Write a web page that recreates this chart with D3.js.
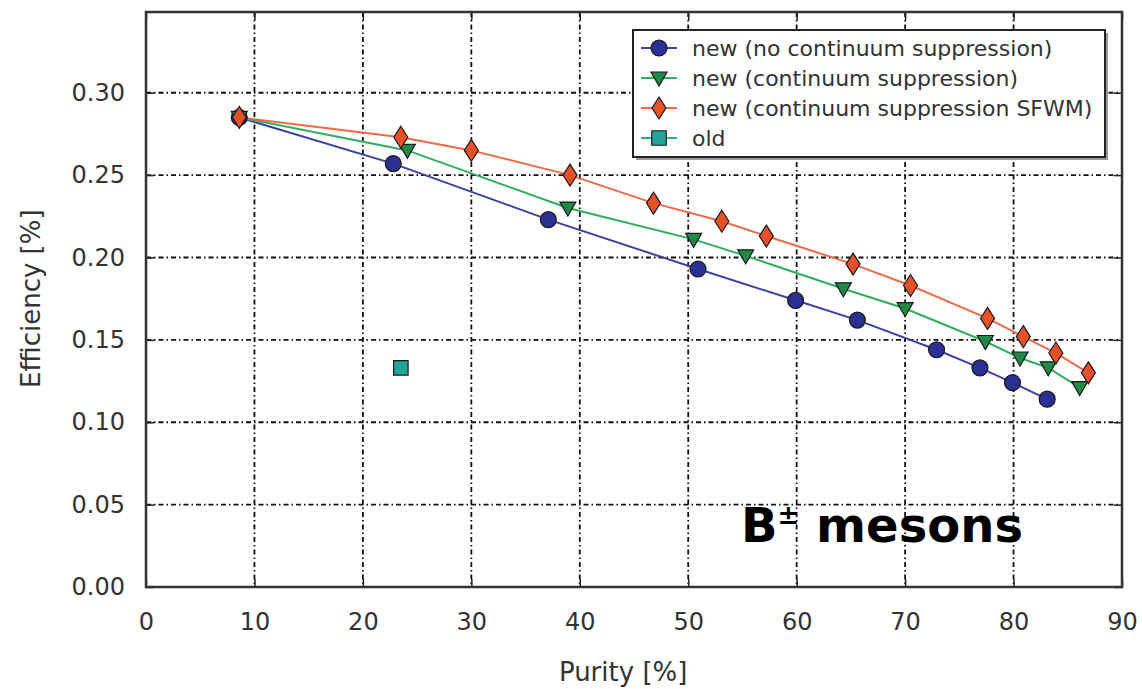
<!DOCTYPE html>
<html>
<head>
<meta charset="utf-8">
<script src="https://cdn.jsdelivr.net/npm/d3@7"></script>
<style>
  body { margin: 0; background: #fff; }
  text { font-family: "DejaVu Sans", sans-serif; }
</style>
</head>
<body>
<div id="chart"></div>
<script>
// data
const seriesNames = [
  'new (no continuum suppression)',
  'new (continuum suppression)',
  'new (continuum suppression SFWM)',
  'old'
];
const noCsPurity = [8.6, 22.8, 37.1, 50.9, 59.9, 65.6, 72.9, 76.9, 79.9, 83.1];
const noCsEff = [0.285, 0.257, 0.223, 0.193, 0.174, 0.162, 0.144, 0.133, 0.124, 0.114];
const csPurity = [8.6, 24.1, 38.9, 50.5, 55.3, 64.3, 70.0, 77.4, 80.6, 83.2, 86.1];
const csEff = [0.285, 0.265, 0.230, 0.211, 0.201, 0.181, 0.169, 0.149, 0.139, 0.133, 0.121];
const sfwmPurity = [8.6, 23.5, 30.0, 39.1, 46.8, 53.1, 57.2, 65.2, 70.5, 77.6, 80.9, 83.9, 86.9];
const sfwmEff = [0.285, 0.273, 0.265, 0.250, 0.233, 0.222, 0.213, 0.196, 0.183, 0.163, 0.152, 0.142, 0.130];
const oldPurity = [23.5];
const oldEff = [0.133];
const xTicks = [0, 10, 20, 30, 40, 50, 60, 70, 80, 90];
const yTicks = [0, 0.05, 0.10, 0.15, 0.20, 0.25, 0.30];

const width = 1142, height = 689;
const margin = {top: 12, right: 20, bottom: 102, left: 146};
const w = width - margin.left - margin.right;
const h = height - margin.top - margin.bottom;

const svg = d3.select('#chart').append('svg')
  .attr('width', width)
  .attr('height', height);
const g = svg.append('g').attr('transform', `translate(${margin.left},${margin.top})`);

const x = d3.scaleLinear().domain([0, 90]).range([0, w]);
const y = d3.scaleLinear().domain([0, 0.349]).range([h, 0]);

// grid
const gridDash = '5,3,1.5,3';
g.append('g').selectAll('line').data(xTicks.slice(1, -1)).enter().append('line')
  .attr('x1', d => x(d)).attr('x2', d => x(d))
  .attr('y1', 0).attr('y2', h)
  .attr('stroke', '#111').attr('stroke-width', 1.8).attr('stroke-dasharray', gridDash);
g.append('g').selectAll('line').data(yTicks.slice(1)).enter().append('line')
  .attr('y1', d => y(d)).attr('y2', d => y(d))
  .attr('x1', 0).attr('x2', w)
  .attr('stroke', '#111').attr('stroke-width', 1.8).attr('stroke-dasharray', gridDash);

// axes (ticks inside, labels outside)
const xAxis = g.append('g').attr('transform', `translate(0,${h})`)
  .call(d3.axisBottom(x).tickValues(xTicks).tickFormat(d3.format('d')).tickSize(-8).tickPadding(26));
const yAxis = g.append('g')
  .call(d3.axisLeft(y).tickValues(yTicks).tickFormat(d3.format('.2f')).tickSize(-8).tickPadding(21));
g.append('g')
  .call(d3.axisTop(x).tickValues(xTicks).tickSize(-8).tickFormat(''));
g.append('g').attr('transform', `translate(${w},0)`)
  .call(d3.axisRight(y).tickValues(yTicks).tickSize(-8).tickFormat(''));
g.selectAll('.domain').remove();
g.selectAll('.tick line').attr('stroke', '#222').attr('stroke-width', 1.5);
[xAxis, yAxis].forEach(a => a.selectAll('text')
  .attr('font-size', 24).attr('fill', '#333').attr('font-family', '"DejaVu Sans", sans-serif'));

// frame
g.append('rect')
  .attr('width', w).attr('height', h)
  .attr('fill', 'none').attr('stroke', '#333').attr('stroke-width', 2.5);

// axis titles
svg.append('text')
  .attr('x', margin.left + x(44)).attr('y', 681)
  .attr('text-anchor', 'middle').attr('font-size', 26).attr('fill', '#333')
  .text('Purity [%]');
svg.append('text')
  .attr('transform', `translate(40,${margin.top + y(0.175)}) rotate(-90)`)
  .attr('text-anchor', 'middle').attr('font-size', 26).attr('fill', '#333')
  .text('Efficiency [%]');

// series
const series = [
  {name: seriesNames[0], xs: noCsPurity, ys: noCsEff, line: '#3e42a0', fill: '#2c3094', marker: d3.symbolCircle, size: 200},
  {name: seriesNames[1], xs: csPurity, ys: csEff, line: '#2fae5e', fill: '#1f8a46', marker: 'tri', size: 0},
  {name: seriesNames[2], xs: sfwmPurity, ys: sfwmEff, line: '#f06a45', fill: '#e8502a', marker: 'diamond', size: 0},
  {name: seriesNames[3], xs: oldPurity, ys: oldEff, line: '#2aa9a0', fill: '#24a39b', marker: d3.symbolSquare, size: 210}
];

function markerPath(s) {
  if (s.marker === 'tri') return 'M-8,-6L8,-6L0,8Z';
  if (s.marker === 'diamond') return 'M0,-11L7,0L0,11L-7,0Z';
  return d3.symbol(s.marker, s.size)();
}

const line = d3.line().x(d => x(d[0])).y(d => y(d[1]));

// draw in reverse so that the SFWM diamonds sit on top at the shared start
series.slice(0, 3).forEach(s => {
  g.append('path')
    .datum(d3.zip(s.xs, s.ys))
    .attr('d', line)
    .attr('fill', 'none').attr('stroke', s.line).attr('stroke-width', 2);
});
series.forEach(s => {
  g.append('g').selectAll('path').data(d3.zip(s.xs, s.ys)).enter().append('path')
    .attr('transform', d => `translate(${x(d[0])},${y(d[1])})`)
    .attr('d', markerPath(s))
    .attr('fill', s.fill).attr('stroke', '#1a1a1a').attr('stroke-width', 1.2);
});

// legend
const lg = svg.append('g').attr('transform', 'translate(633,30)');
lg.append('rect').attr('x', 3).attr('y', 3).attr('width', 472).attr('height', 127).attr('fill', '#999');
lg.append('rect').attr('width', 472).attr('height', 127)
  .attr('fill', '#fff').attr('stroke', '#222').attr('stroke-width', 2);
const items = lg.selectAll('.item').data(series).enter().append('g')
  .attr('transform', (d, i) => `translate(0,${18 + i * 30})`);
items.append('line').attr('x1', 8).attr('x2', 44)
  .attr('stroke', d => d.line).attr('stroke-width', 2);
items.append('path')
  .attr('transform', 'translate(26,0)')
  .attr('d', d => markerPath(d))
  .attr('fill', d => d.fill).attr('stroke', '#1a1a1a').attr('stroke-width', 1.2);
items.append('text').attr('x', 59).attr('y', 8)
  .attr('font-size', 22).attr('fill', '#333')
  .text(d => d.name);

// annotation
const ann = svg.append('text')
  .attr('x', 741).attr('y', 542)
  .attr('font-family', '"Open Sans", sans-serif').attr('font-weight', 'bold')
  .attr('font-size', 48).attr('fill', '#000');
ann.append('tspan').text('B');
ann.append('tspan').attr('font-size', 26).attr('dy', -18).text('±');
ann.append('tspan').attr('dy', 18).text(' mesons');
</script>
</body>
</html>
